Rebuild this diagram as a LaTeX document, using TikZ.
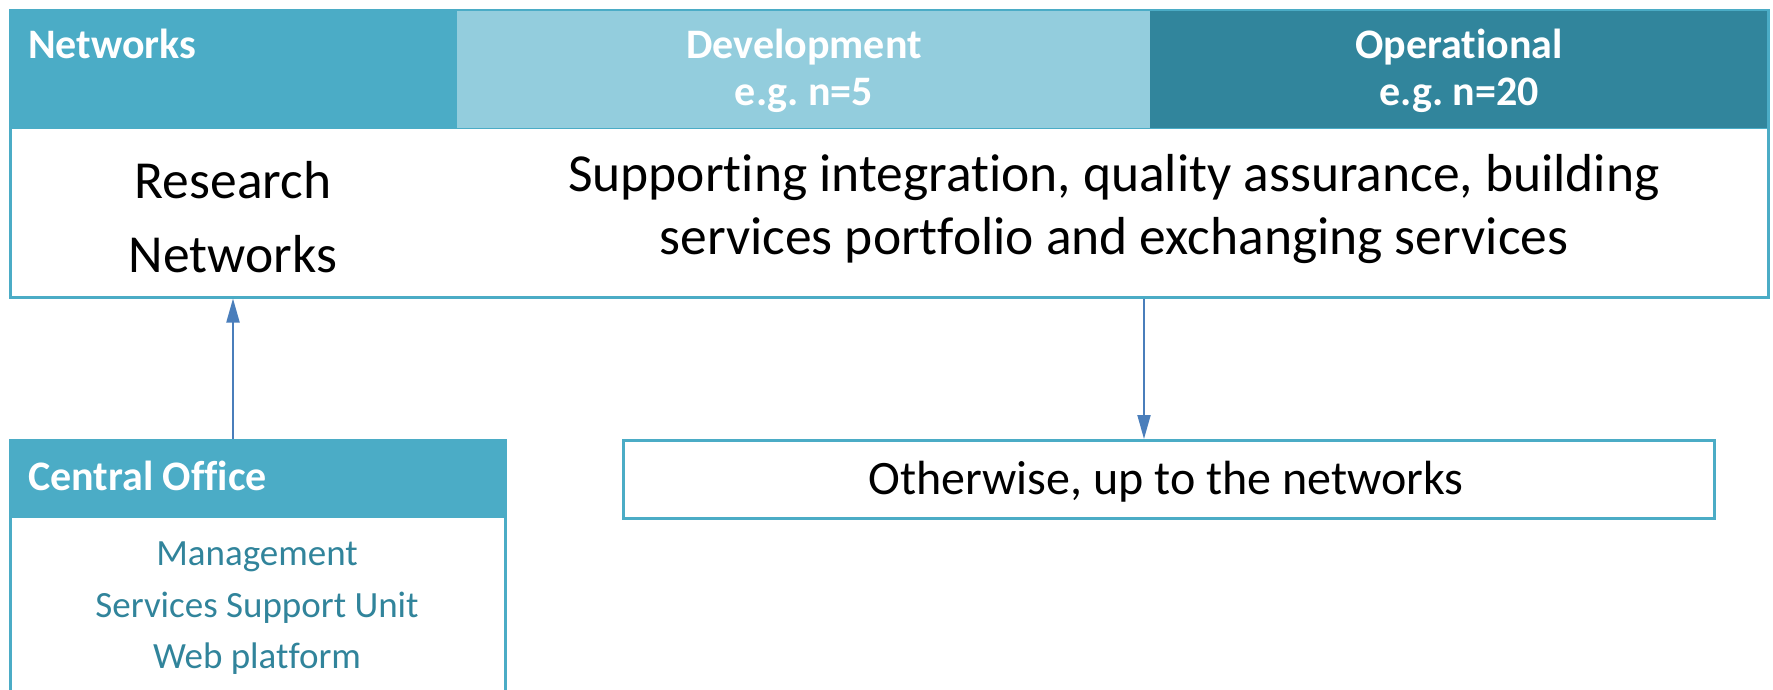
\documentclass[tikz,border=0pt]{standalone}
\usepackage{fontspec}
\setmainfont{Carlito}[Ligatures={NoCommon}]
\usetikzlibrary{arrows.meta,calc}
\definecolor{tealmid}{HTML}{4BACC6}
\definecolor{teallight}{HTML}{93CDDD}
\definecolor{tealdark}{HTML}{31859C}
\definecolor{cotext}{HTML}{31849B}
\definecolor{arrowblue}{HTML}{4A7EBB}
\frenchspacing
\begin{document}
\begin{tikzpicture}[x=1pt,y=-1pt,
  framebox/.style={draw=tealmid,line width=2.5pt,inner sep=0pt,anchor=north west},
  hdrcell/.style={inner sep=0pt,anchor=north west,draw=none},
  htext/.style={text=white,font=\fontsize{42}{48}\selectfont\bfseries,anchor=base,inner sep=0pt},
  bigtext/.style={font=\fontsize{53.5}{62}\selectfont,anchor=base,inner sep=0pt},
  cotxt/.style={text=cotext,font=\fontsize{37}{44}\selectfont,anchor=base,inner sep=0pt},
  arr/.style={draw=arrowblue,line width=2pt,-{Triangle[length=24pt,width=13pt]}}
]
\useasboundingbox (0,0) rectangle (1773,690);
\clip (0,0) rectangle (1773,690);
% top table
\node[hdrcell,fill=tealmid,minimum width=448,minimum height=119] (hn) at (9,9) {};
\node[hdrcell,fill=teallight,minimum width=693,minimum height=119] (hd) at (457,9) {};
\node[hdrcell,fill=tealdark,minimum width=617,minimum height=119] (ho) at (1150,9) {};
\draw[tealmid,line width=1.5pt] (hn.south west) -- (ho.south east);
\node[framebox,minimum width=1758,minimum height=287] (top) at (9,9) {};
\node[htext,anchor=base west] (tn) at (28,59) {Networks};
\node[htext] (td1) at (804,59) {Development};
\node[htext] (td2) at (804,106) {e.g. n=5};
\node[htext] (to1) at (1459,59) {Operational};
\node[htext] (to2) at (1459,106) {e.g. n=20};
\node[bigtext] (rn1) at (233,198) {Research};
\node[bigtext] (rn2) at (233,272) {Networks};
\node[bigtext] (sp1) at (1114,192) {Supporting integration, quality assurance, building};
\node[bigtext] (sp2) at (1114,254) {services portfolio and exchanging services};
% central office
\node[hdrcell,fill=tealmid,minimum width=495,minimum height=79] (coh) at (9,439) {};
\node[framebox,minimum width=495,minimum height=320] (co) at (9,439) {};
\node[htext,anchor=base west] (cot) at (28,490) {Central Office};
\node[cotxt] (m1) at (257,565) {Management};
\node[cotxt] (m2) at (257,617) {Services Support Unit};
\node[cotxt] (m3) at (257,668) {Web platform};
% otherwise box
\node[framebox,minimum width=1091,minimum height=78] (ow) at (622,439) {};
\node[font=\fontsize{48}{56}\selectfont,anchor=base,inner sep=0pt] (owt) at (1166,494) {Otherwise, up to the networks};
% connectors
\coordinate (dx) at (1144,0);
\draw[arr] (co.north -| rn1.base) -- (top.south -| rn1.base);
\draw[arr] (top.south -| dx) -- (ow.north -| dx);
\end{tikzpicture}
\end{document}
